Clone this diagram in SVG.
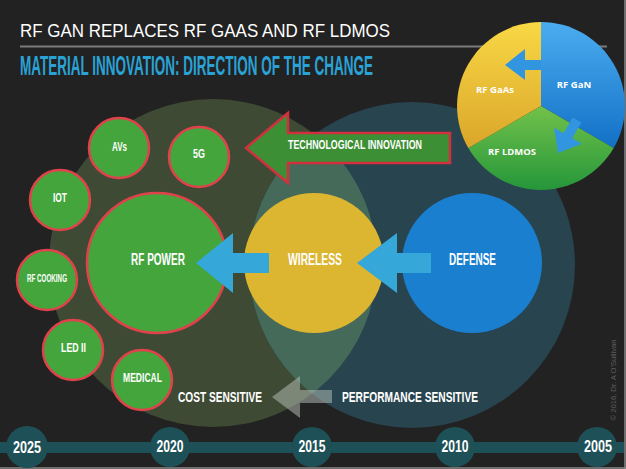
<svg xmlns="http://www.w3.org/2000/svg" width="626" height="469" viewBox="0 0 626 469">
<style>
.lbl{font-family:"Liberation Sans","DejaVu Sans",sans-serif;font-weight:bold;fill:#ffffff;text-anchor:middle}
.small{fill:#44a53d;stroke:#e0414b;stroke-width:2.5}
.pie{font-family:"Open Sans","Liberation Sans",sans-serif;font-weight:bold;fill:#ffffff;font-size:9.5px;text-anchor:middle}
.yr{font-family:"Liberation Sans",sans-serif;font-weight:bold;fill:#ffffff;font-size:17px;text-anchor:middle}
.blue{fill:#35a8d9}
</style>
<defs>
<linearGradient id="gBlue" x1="0" y1="0" x2="0" y2="1"><stop offset="0" stop-color="#4badf0"/><stop offset="1" stop-color="#1270c6"/></linearGradient>
<linearGradient id="gYel" x1="0" y1="0" x2="0" y2="1"><stop offset="0" stop-color="#f8d845"/><stop offset="1" stop-color="#dba62a"/></linearGradient>
<linearGradient id="gGrn" x1="0" y1="0" x2="0" y2="1"><stop offset="0" stop-color="#72c24a"/><stop offset="1" stop-color="#25963a"/></linearGradient>
<clipPath id="clipTeal"><circle cx="412" cy="265" r="163"/></clipPath>
</defs>
<rect x="0" y="0" width="626" height="469" fill="#222222"/>
<line x1="625" y1="0" x2="625" y2="469" stroke="#8a8a8a" stroke-width="1.5"/>
<line x1="0" y1="468" x2="626" y2="468" stroke="#8a8a8a" stroke-width="1.5"/>

<!-- titles -->
<text x="20" y="37" font-family="Liberation Sans, sans-serif" font-size="18.5" fill="#ffffff" textLength="370" lengthAdjust="spacingAndGlyphs">RF GAN REPLACES RF GAAS AND RF LDMOS</text>
<line x1="20" y1="46.5" x2="607" y2="46.5" stroke="#7a7a7a" stroke-width="2"/>
<text x="0" y="0" transform="translate(20,75) scale(0.52,1)" font-family="Liberation Sans, sans-serif" font-size="27" font-weight="bold" fill="#2aa2d6" textLength="679" lengthAdjust="spacingAndGlyphs">MATERIAL INNOVATION: DIRECTION OF THE CHANGE</text>

<!-- background regions -->
<g id="cost-region">
<circle cx="213" cy="263" r="164" fill="#3e4a34"/>
</g>
<g id="performance-region">
<circle cx="412" cy="265" r="163" fill="#27444f"/>
<circle cx="213" cy="263" r="164" fill="#456a5a" clip-path="url(#clipTeal)"/>
</g>

<!-- pie -->
<g id="pie">
<path d="M541,106 L541,22 A84,84 0 0 1 613.7,148 Z" fill="url(#gBlue)"/>
<path d="M541,106 L613.7,148 A84,84 0 0 1 468.3,148 Z" fill="url(#gGrn)"/>
<path d="M541,106 L468.3,148 A84,84 0 0 1 541,22 Z" fill="url(#gYel)"/>
<polygon points="505,65 525,49 525,60 541,60 541,70 525,70 525,80" fill="#3196df"/>
<polygon points="0,0 -20,-16 -20,-5 -38,-5 -38,5 -20,5 -20,16" fill="#3196df" transform="translate(558,153) rotate(120)"/>
<text class="pie" x="574" y="88">RF GaN</text>
<text class="pie" x="495" y="93">RF GaAs</text>
<text class="pie" x="512" y="155">RF LDMOS</text>
</g>

<!-- timeline -->
<g id="timeline">
<rect x="0" y="442" width="624" height="11" fill="#1e5157"/>
<circle cx="27" cy="447" r="21" fill="#1e5157"/>
<circle cx="170" cy="447" r="20" fill="#1e5157"/>
<circle cx="312" cy="447" r="20" fill="#1e5157"/>
<circle cx="455" cy="447" r="20" fill="#1e5157"/>
<circle cx="597" cy="447" r="20" fill="#1e5157"/>
<text class="yr" x="27" y="453" textLength="28" lengthAdjust="spacingAndGlyphs">2025</text>
<text class="yr" x="170" y="452" textLength="27" lengthAdjust="spacingAndGlyphs">2020</text>
<text class="yr" x="312" y="452" textLength="27" lengthAdjust="spacingAndGlyphs">2015</text>
<text class="yr" x="455" y="452" textLength="27" lengthAdjust="spacingAndGlyphs">2010</text>
<text class="yr" x="598" y="452" textLength="28" lengthAdjust="spacingAndGlyphs">2005</text>
</g>

<!-- nodes -->
<g id="rf-power"><circle class="small" cx="157" cy="263" r="70"/><text class="lbl" x="158" y="265" font-size="16" textLength="54" lengthAdjust="spacingAndGlyphs">RF POWER</text></g>
<g id="wireless"><circle cx="314" cy="263" r="70" fill="#dcb531"/><text class="lbl" x="315" y="265" font-size="16" textLength="54" lengthAdjust="spacingAndGlyphs">WIRELESS</text></g>
<g id="defense"><circle cx="472" cy="263" r="70" fill="#1b7fd0"/><text class="lbl" x="472.5" y="265" font-size="16" textLength="47" lengthAdjust="spacingAndGlyphs">DEFENSE</text></g>
<g id="avs"><circle class="small" cx="119" cy="148" r="30"/><text class="lbl" x="119.5" y="151" font-size="13" textLength="15" lengthAdjust="spacingAndGlyphs">AVs</text></g>
<g id="5g"><circle class="small" cx="199" cy="157" r="30"/><text class="lbl" x="199" y="158" font-size="13" textLength="12" lengthAdjust="spacingAndGlyphs">5G</text></g>
<g id="iot"><circle class="small" cx="60" cy="200" r="30"/><text class="lbl" x="60" y="202" font-size="13" textLength="14" lengthAdjust="spacingAndGlyphs">IOT</text></g>
<g id="rf-cooking"><circle class="small" cx="47" cy="280" r="30"/><text class="lbl" x="47" y="282" font-size="10" textLength="40" lengthAdjust="spacingAndGlyphs">RF COOKING</text></g>
<g id="led-ii"><circle class="small" cx="73" cy="350" r="30"/><text class="lbl" x="73.5" y="352" font-size="13" textLength="25" lengthAdjust="spacingAndGlyphs">LED II</text></g>
<g id="medical"><circle class="small" cx="142" cy="380" r="30"/><text class="lbl" x="142.5" y="382" font-size="13" textLength="39" lengthAdjust="spacingAndGlyphs">MEDICAL</text></g>

<!-- connectors -->
<g id="connectors">
<polygon points="246,148 288,113 288,133 450,133 450,163 288,163 288,183" fill="#3c8f34" stroke="#d3303f" stroke-width="2.5" stroke-linejoin="miter"/>
<text class="lbl" x="355" y="149" font-size="13" textLength="134" lengthAdjust="spacingAndGlyphs">TECHNOLOGICAL INNOVATION</text>
<polygon class="blue" points="196,263 233,233 233,253 269,253 269,273 233,273 233,293"/>
<polygon class="blue" points="357,263 397,233 397,253 431,253 431,273 397,273 397,293"/>
<polygon points="272,397 300,376 300,390 332,390 332,403 300,403 300,418" fill="#bcc4bc" fill-opacity="0.5"/>
</g>

<text class="lbl" x="220" y="402" font-size="15" textLength="84" lengthAdjust="spacingAndGlyphs">COST SENSITIVE</text>
<text class="lbl" x="410" y="402" font-size="15" textLength="136" lengthAdjust="spacingAndGlyphs">PERFORMANCE SENSITIVE</text>

<text x="0" y="0" transform="translate(616,380) rotate(-90)" font-family="Liberation Sans, sans-serif" font-size="7.5" fill="#5e5e5e" text-anchor="middle" textLength="81" lengthAdjust="spacingAndGlyphs">© 2016, Dr. A O'Sullivan</text>
</svg>
